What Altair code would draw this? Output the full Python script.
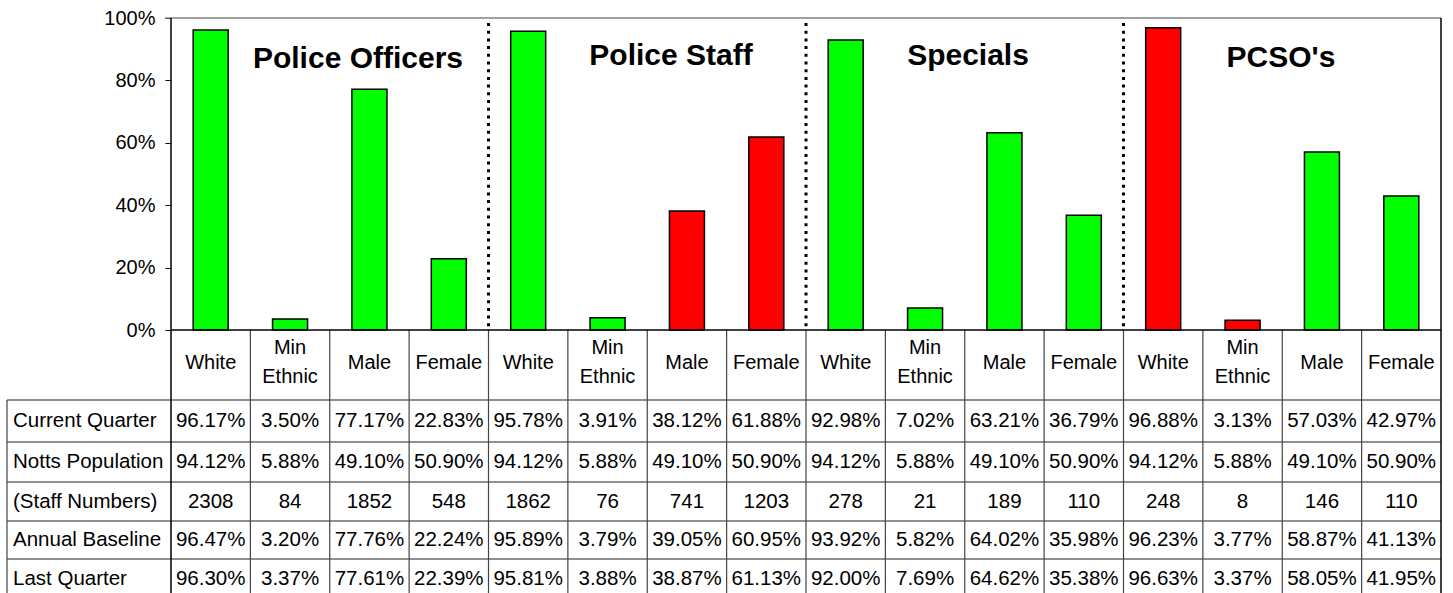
import altair as alt
import pandas as pd

# ---- data -------------------------------------------------------------
groups = ["Police Officers", "Police Staff", "Specials", "PCSO's"]
categories = ["White", "Min\nEthnic", "Male", "Female"]

current_quarter = [96.17, 3.50, 77.17, 22.83, 95.78, 3.91, 38.12, 61.88,
                   92.98, 7.02, 63.21, 36.79, 96.88, 3.13, 57.03, 42.97]
notts_population = [94.12, 5.88, 49.10, 50.90, 94.12, 5.88, 49.10, 50.90,
                    94.12, 5.88, 49.10, 50.90, 94.12, 5.88, 49.10, 50.90]
staff_numbers = [2308, 84, 1852, 548, 1862, 76, 741, 1203,
                 278, 21, 189, 110, 248, 8, 146, 110]
annual_baseline = [96.47, 3.20, 77.76, 22.24, 95.89, 3.79, 39.05, 60.95,
                   93.92, 5.82, 64.02, 35.98, 96.23, 3.77, 58.87, 41.13]
last_quarter = [96.30, 3.37, 77.61, 22.39, 95.81, 3.88, 38.87, 61.13,
                92.00, 7.69, 64.62, 35.38, 96.63, 3.37, 58.05, 41.95]
status = ["G", "G", "G", "G", "G", "G", "R", "R",
          "G", "G", "G", "G", "R", "R", "G", "G"]

row_names = ["Current Quarter", "Notts Population", "(Staff Numbers)",
             "Annual Baseline", "Last Quarter"]

# ---- layout helpers (pixel geometry of the plot and the data table) ------
PLOT_LEFT, PLOT_TOP, PLOT_W = 171, 18, 1270
ZERO_PX = 330
COL_W = PLOT_W / 16
PX_PER_PCT = (ZERO_PX - PLOT_TOP) / 100
HEIGHT = 575


def ux(px):
    return (px - PLOT_LEFT) / COL_W


def uy(px):
    return (ZERO_PX - px) / PX_PER_PCT


Y_MIN = uy(PLOT_TOP + HEIGHT)
row_edges_px = [400, 442, 482, 521, 559, 598]
FONT = "Liberation Sans"

n = len(current_quarter)
bars = pd.DataFrame({
    "x0": [i + 0.5 - 0.2205 for i in range(n)],
    "x1": [i + 0.5 + 0.2205 for i in range(n)],
    "value": current_quarter,
    "base": [0.0] * n,
    "status": status,
})

xs = alt.Scale(domain=[0, 16], nice=False, zero=False)
ys = alt.Scale(domain=[Y_MIN, 100], nice=False, zero=False)
y_axis = alt.Axis(
    values=[0, 20, 40, 60, 80, 100], labelExpr="datum.value + '%'",
    domain=False, grid=False, tickSize=6, tickColor="black", tickWidth=1,
    labelPadding=10, labelFontSize=20, labelFont=FONT, labelColor="black",
    title=None)


def X(field):
    return alt.X(field, scale=xs, axis=None)


def Y(field):
    return alt.Y(field, scale=ys, axis=y_axis)


bar_layer = alt.Chart(bars).mark_rect(stroke="black", strokeWidth=1.5).encode(
    x=X("x0:Q"), x2="x1:Q", y=Y("value:Q"), y2="base:Q",
    color=alt.Color("status:N", scale=alt.Scale(domain=["G", "R"],
                                                range=["#00FF00", "#FF0000"]),
                    legend=None),
)

# dotted separators between the four groups
seps = pd.DataFrame({"x": [4, 8, 12], "y": [uy(23)] * 3, "y2": [0.0] * 3})
sep_layer = alt.Chart(seps).mark_rule(
    color="black", strokeWidth=3, strokeDash=[3, 4.7]
).encode(x=X("x:Q"), y=Y("y:Q"), y2="y2:Q")

# plot frame: grey top edge, black axis lines
top_edge = alt.Chart(pd.DataFrame({"x": [ux(165)], "x2": [16], "y": [100]})).mark_rule(
    color="#808080", strokeWidth=1.5
).encode(x=X("x:Q"), x2="x2:Q", y=Y("y:Q"))

frame_v = pd.DataFrame({"x": [0, 16], "y": [100, 100], "y2": [uy(598)] * 2})
frame_v_layer = alt.Chart(frame_v).mark_rule(color="black", strokeWidth=1.5).encode(
    x=X("x:Q"), y=Y("y:Q"), y2="y2:Q")

zero_line = alt.Chart(pd.DataFrame({"x": [0], "x2": [16], "y": [0]})).mark_rule(
    color="black", strokeWidth=1.5
).encode(x=X("x:Q"), x2="x2:Q", y=Y("y:Q"))

# data table grid
h_lines = pd.DataFrame({"y": [uy(p) for p in row_edges_px[:-1]]})
h_lines["x"] = ux(7)
h_lines["x2"] = 16
h_layer = alt.Chart(h_lines).mark_rule(color="#222222", strokeWidth=1.2).encode(
    x=X("x:Q"), x2="x2:Q", y=Y("y:Q"))

v_lines = pd.DataFrame({
    "x": list(range(1, 16)) + [ux(7)],
    "y": [0.0] * 15 + [uy(400)],
    "y2": [uy(598)] * 16,
})
v_layer = alt.Chart(v_lines).mark_rule(color="#444444", strokeWidth=1.2).encode(
    x=X("x:Q"), y=Y("y:Q"), y2="y2:Q")

# category header row (two-line labels anchored on their first line)
cat_labels = categories * 4
cats = pd.DataFrame({
    "x": [i + 0.5 for i in range(n)],
    "y": [uy(348) if "\n" in c else uy(362.5) for c in cat_labels],
    "label": cat_labels,
})
cat_layer = alt.Chart(cats).mark_text(
    font=FONT, fontSize=20, color="black", lineBreak="\n", lineHeight=29,
    align="center", baseline="middle"
).encode(x=X("x:Q"), y=Y("y:Q"), text="label:N")

# row labels
row_centres = [(row_edges_px[i] + row_edges_px[i + 1]) / 2 for i in range(5)]
rows = pd.DataFrame({"x": [ux(13)] * 5, "y": [uy(c) for c in row_centres],
                     "label": row_names})
row_layer = alt.Chart(rows).mark_text(
    font=FONT, fontSize=20.5, color="black", align="left", baseline="middle"
).encode(x=X("x:Q"), y=Y("y:Q"), text="label:N")

# table cells
series = [current_quarter, notts_population, staff_numbers,
          annual_baseline, last_quarter]
cells = []
for r, vals in enumerate(series):
    for i, v in enumerate(vals):
        txt = f"{v:d}" if r == 2 else f"{v:.2f}%"
        cells.append({"x": i + 0.5, "y": uy(row_centres[r]), "label": txt})
cell_layer = alt.Chart(pd.DataFrame(cells)).mark_text(
    font=FONT, fontSize=20.5, color="black", align="center", baseline="middle"
).encode(x=X("x:Q"), y=Y("y:Q"), text="label:N")

# group titles
titles = pd.DataFrame({
    "x": [ux(358), ux(671), ux(968), ux(1281)],
    "y": [uy(68), uy(64.5), uy(64.5), uy(67)],
    "label": groups,
})
title_layer = alt.Chart(titles).mark_text(
    font=FONT, fontSize=30, fontWeight="bold", color="black",
    align="center", baseline="alphabetic"
).encode(x=X("x:Q"), y=Y("y:Q"), text="label:N")

chart = alt.layer(
    bar_layer, sep_layer, top_edge, h_layer, v_layer, frame_v_layer, zero_line,
    cat_layer, row_layer, cell_layer, title_layer,
).properties(
    width=PLOT_W, height=HEIGHT,
    padding={"left": PLOT_LEFT, "top": PLOT_TOP, "right": 1453 - PLOT_LEFT - PLOT_W, "bottom": 0},
    autosize=alt.AutoSizeParams(type="none"),
    background="white",
).configure_view(stroke=None)

chart.save("out.html", embed_options={"renderer": "svg", "actions": False})
